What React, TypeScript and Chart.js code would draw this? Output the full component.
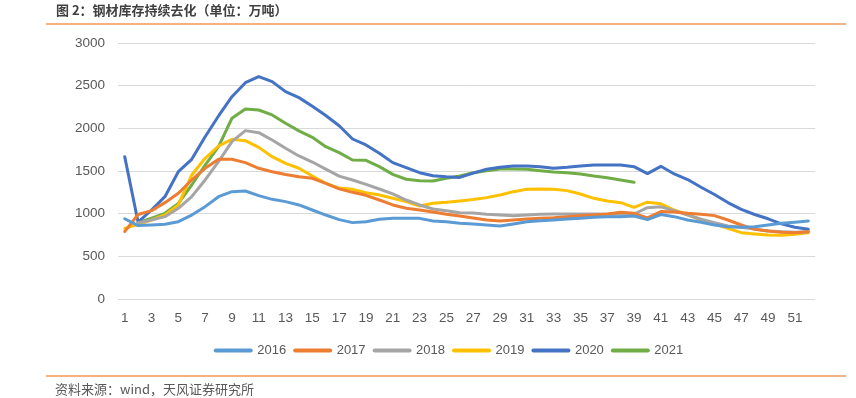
import React, { useEffect, useRef } from "react";
import { Chart, registerables } from "chart.js";

Chart.register(...registerables);

const weeks: string[] = Array.from({ length: 52 }, (_, i) => String(i + 1));

const seriesNames = ["2016", "2017", "2018", "2019", "2020", "2021"];
const seriesColors = ["#5B9BD5", "#ED7D31", "#A5A5A5", "#FFC000", "#4472C4", "#70AD47"];

const y2016: (number | null)[] = [940, 860, 867, 875, 906, 984, 1082, 1199, 1258, 1266, 1211, 1168, 1141, 1102, 1043, 984, 930, 895, 906, 934, 946, 946, 945, 914, 906, 887, 879, 867, 855, 879, 906, 918, 926, 938, 946, 957, 965, 965, 973, 930, 990, 965, 926, 899, 867, 848, 840, 848, 867, 887, 899, 914];
const y2017: (number | null)[] = [789, 990, 1035, 1129, 1239, 1395, 1532, 1637, 1637, 1598, 1532, 1492, 1460, 1433, 1414, 1356, 1290, 1250, 1215, 1160, 1102, 1063, 1043, 1020, 992, 973, 950, 926, 914, 926, 938, 946, 953, 965, 977, 985, 996, 1016, 1004, 950, 1024, 1020, 1004, 993, 977, 926, 867, 816, 797, 781, 777, 789];
const y2018: (number | null)[] = [null, 894, 926, 965, 1063, 1199, 1395, 1609, 1844, 1973, 1949, 1863, 1766, 1676, 1605, 1522, 1440, 1395, 1344, 1289, 1231, 1160, 1102, 1055, 1035, 1010, 1008, 993, 985, 977, 985, 993, 996, 996, 996, 996, 993, 993, 996, 1070, 1080, 1035, 985, 934, 895, 855, 840, 820, 797, 789, 781, 789];
const y2019: (number | null)[] = [828, 875, 926, 984, 1102, 1453, 1649, 1793, 1871, 1855, 1777, 1668, 1590, 1532, 1441, 1356, 1300, 1285, 1246, 1219, 1180, 1141, 1090, 1121, 1133, 1149, 1165, 1188, 1219, 1258, 1285, 1289, 1285, 1270, 1230, 1180, 1148, 1129, 1074, 1135, 1115, 1043, 985, 926, 879, 828, 777, 762, 750, 746, 758, 777];
const y2020: (number | null)[] = [1668, 900, 1043, 1199, 1492, 1637, 1902, 2145, 2371, 2535, 2606, 2547, 2430, 2360, 2260, 2150, 2030, 1875, 1805, 1707, 1598, 1539, 1480, 1445, 1433, 1425, 1475, 1520, 1543, 1559, 1559, 1551, 1531, 1543, 1559, 1570, 1570, 1570, 1551, 1470, 1555, 1465, 1400, 1310, 1225, 1130, 1050, 990, 940, 880, 840, 818];
const y2021: (number | null)[] = [null, 894, 946, 1004, 1121, 1336, 1570, 1785, 2118, 2227, 2215, 2157, 2059, 1970, 1895, 1785, 1715, 1629, 1625, 1551, 1461, 1403, 1387, 1383, 1414, 1441, 1480, 1504, 1524, 1524, 1520, 1504, 1488, 1480, 1465, 1441, 1422, 1395, 1367];

const seriesValues = [y2016, y2017, y2018, y2019, y2020, y2021];

const yMin = 0;
const yMax = 3000;
const yStep = 500;

const titleText = "图 2：钢材库存持续去化（单位：万吨）";
const sourceText = "资料来源：wind，天风证券研究所";

const FONT = "'Liberation Sans', Arial, sans-serif";
const CJK = "'Noto Sans CJK SC', sans-serif";

const legendShift = {
  id: "legendShift",
  afterLayout(chart: any) {
    const lg = chart.legend;
    if (!lg) return;
    const dx = 42;
    lg.left += dx;
    lg.right += dx;
  },
};

export default function App() {
  const canvasRef = useRef<HTMLCanvasElement | null>(null);

  useEffect(() => {
    const canvas = canvasRef.current;
    if (!canvas) return;
    const chart = new Chart(canvas, {
      type: "line",
      data: {
        labels: weeks,
        datasets: seriesNames.map((name, i) => ({
          label: name,
          data: seriesValues[i],
          borderColor: seriesColors[i],
          backgroundColor: seriesColors[i],
          borderWidth: 3,
          pointRadius: 0,
          pointHoverRadius: 0,
          tension: 0,
          borderCapStyle: "round" as const,
          borderJoinStyle: "round" as const,
          spanGaps: false,
        })),
      },
      plugins: [legendShift],
      options: {
        animation: false,
        responsive: false,
        devicePixelRatio: 1,
        layout: { padding: { left: 0, right: 41, top: 43, bottom: 31 } },
        plugins: {
          tooltip: { enabled: false },
          legend: {
            position: "bottom",
            labels: {
              usePointStyle: true,
              pointStyle: "line",
              pointStyleWidth: 35,
              boxHeight: 13,
              padding: 9,
              color: "#595959",
              font: { family: FONT, size: 13 },
              generateLabels: (ch: any) => {
                const items = Chart.defaults.plugins.legend.labels.generateLabels(ch);
                return items.map((it: any) => ({ ...it, lineWidth: 4, pointStyle: "line", lineCap: "round" }));
              },
            },
          },
        },
        scales: {
          x: {
            offset: true,
            grid: { display: false, drawTicks: false },
            border: { display: false },
            afterFit: (s: any) => {
              s.height = 36;
            },
            ticks: {
              autoSkip: false,
              maxRotation: 0,
              minRotation: 0,
              padding: 11,
              color: "#595959",
              font: { family: FONT, size: 13.5 },
              callback: (_v: any, idx: number) => (idx % 2 === 0 ? weeks[idx] : ""),
            },
          },
          y: {
            min: yMin,
            max: yMax,
            afterFit: (s: any) => {
              s.width = 118;
            },
            grid: { color: "#D9D9D9", lineWidth: 1, drawTicks: false },
            border: { display: false },
            ticks: {
              stepSize: yStep,
              padding: 13,
              color: "#595959",
              font: { family: FONT, size: 13.5 },
              callback: (v: any) => String(v),
            },
          },
        },
      },
    });
    return () => chart.destroy();
  }, []);

  return (
    <div style={{ position: "absolute", left: 0, top: 0, width: 856, height: 398, background: "#fff", overflow: "hidden" }}>
      <canvas ref={canvasRef} width={856} height={398} style={{ position: "absolute", left: 0, top: 0, width: 856, height: 398 }} />
      <div style={{ position: "absolute", left: 56, top: 1, fontFamily: CJK, fontWeight: "bold", fontSize: 13, color: "#404040", lineHeight: "18px", whiteSpace: "nowrap" }}>
        {titleText}
      </div>
      <div style={{ position: "absolute", left: 46, top: 23, width: 800, height: 2, background: "#F4B183" }} />
      <div style={{ position: "absolute", left: 46, top: 375, width: 800, height: 2, background: "#F4B183" }} />
      <div style={{ position: "absolute", left: 55, top: 381, fontFamily: CJK, fontSize: 13, color: "#595959", lineHeight: "16px", whiteSpace: "nowrap" }}>
        {sourceText}
      </div>
    </div>
  );
}
